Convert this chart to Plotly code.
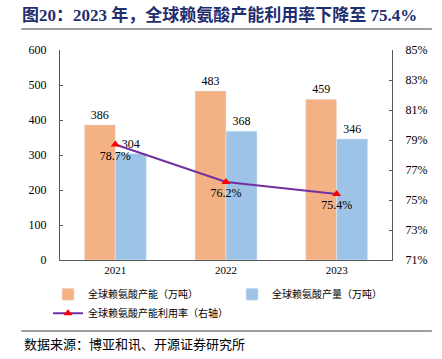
import plotly.graph_objects as go

years = ["2021", "2022", "2023"]
capacity = [386, 483, 459]
output = [304, 368, 346]
utilization = [78.7, 76.2, 75.4]
util_labels = ["78.7%", "76.2%", "75.4%"]
left_ticks = [0, 100, 200, 300, 400, 500, 600]
right_ticks = [71, 73, 75, 77, 79, 81, 83, 85]
right_tick_labels = ["71%", "73%", "75%", "77%", "79%", "81%", "83%", "85%"]

FONT = "Liberation Serif, Times New Roman, Noto Sans CJK SC, serif"
ORANGE = "#F4B183"
BLUE = "#9DC3E6"
PURPLE = "#7030A0"

fig = go.Figure()
fig.add_trace(go.Bar(
    x=years, y=capacity, name="全球赖氨酸产能（万吨）", marker_color=ORANGE,
    text=[str(v) for v in capacity], textposition="outside", cliponaxis=False,
    textfont=dict(family=FONT, size=12, color="#000000"),
))
fig.add_trace(go.Bar(
    x=years, y=output, name="全球赖氨酸产量（万吨）", marker_color=BLUE,
    text=[str(v) for v in output], textposition="outside", cliponaxis=False,
    textfont=dict(family=FONT, size=12, color="#000000"),
))
fig.add_trace(go.Scatter(
    x=years, y=utilization, name="全球赖氨酸产能利用率（右轴）", yaxis="y2",
    mode="lines+markers+text", line=dict(color=PURPLE, width=2),
    marker=dict(symbol="triangle-up", color="#FF0000", size=8),
    text=util_labels, textposition="bottom center", cliponaxis=False,
    textfont=dict(family=FONT, size=12, color="#000000"),
))

fig.update_layout(
    width=442, height=359,
    margin=dict(l=60, r=50, t=50, b=99, autoexpand=False),
    paper_bgcolor="white", plot_bgcolor="white",
    font=dict(family=FONT, size=11, color="#000000"),
    barmode="group", bargap=0.44, bargroupgap=0,
    showlegend=True,
    legend=dict(
        orientation="h", x=-0.036, xanchor="left",
        y=-0.094, yanchor="top",
        entrywidth=139, font=dict(family=FONT, size=10, color="#000000"),
        itemwidth=30, tracegroupgap=0, bgcolor="rgba(0,0,0,0)",
    ),
    xaxis=dict(
        showline=True, linecolor="#595959", linewidth=1, ticks="",
        showgrid=False, tickfont=dict(family=FONT, size=11),
    ),
    yaxis=dict(
        range=[0, 600], tickvals=left_ticks, showline=True, linecolor="#595959",
        linewidth=1, ticks="inside", ticklen=3, tickcolor="#595959",
        showgrid=False, zeroline=False, tickfont=dict(family=FONT, size=12),
        ticklabelstandoff=10,
    ),
    yaxis2=dict(
        overlaying="y", side="right", range=[71, 85], tickvals=right_ticks,
        ticktext=right_tick_labels, showline=True, linecolor="#595959",
        linewidth=1, ticks="inside", ticklen=3, tickcolor="#595959",
        showgrid=False, zeroline=False, tickfont=dict(family=FONT, size=12),
        ticklabelstandoff=10,
    ),
    title=dict(
        text="<b>图20：2023 年，全球赖氨酸产能利用率下降至 75.4%</b>",
        x=22 / 442, xanchor="left", y=1 - 15 / 359, yanchor="middle",
        font=dict(family=FONT, size=17, color="#1F2E6E"),
    ),
)

fig.add_shape(type="line", xref="paper", yref="paper", x0=-0.117, x1=1.12,
              y0=(260 - 29) / 210, y1=(260 - 29) / 210,
              line=dict(color="#7F7F7F", width=1.5))
fig.add_shape(type="line", xref="paper", yref="paper", x0=-0.117, x1=1.12,
              y0=(260 - 331) / 210, y1=(260 - 331) / 210,
              line=dict(color="#7F7F7F", width=1.5))
fig.add_annotation(text="数据来源：博亚和讯、开源证券研究所", xref="paper", yref="paper",
                   x=-0.1145, xanchor="left", y=(260 - 344) / 210, yanchor="middle",
                   showarrow=False, font=dict(family=FONT, size=13, color="#000000"))

fig.write_html("out.html", config={"displayModeBar": False},
               post_script="document.body.style.margin='0';")
